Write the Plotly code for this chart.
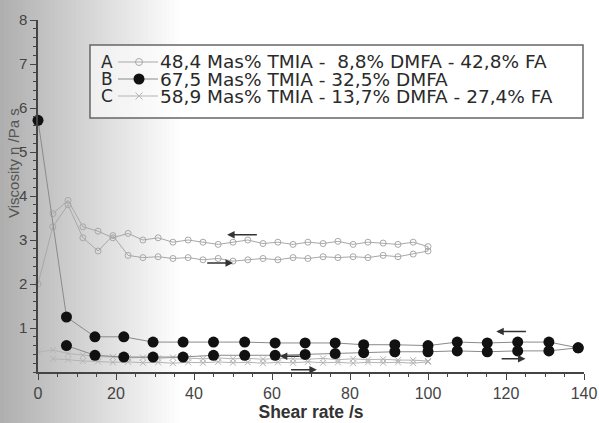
import plotly.graph_objects as go

# ---------------- data ----------------
shear_B = [0, 7.3, 14.6, 22.0, 29.5, 37.2, 45.0, 53.0, 60.8, 68.5, 76.2, 83.5, 91.5, 100.0, 107.5, 115.2, 123.0, 131.0, 138.5]
visc_B_upper = [5.72, 1.25, 0.80, 0.80, 0.68, 0.68, 0.68, 0.68, 0.66, 0.66, 0.66, 0.62, 0.62, 0.60, 0.68, 0.66, 0.68, 0.68, 0.55]
visc_B_lower = [0.60, 0.38, 0.34, 0.34, 0.34, 0.38, 0.38, 0.38, 0.40, 0.42, 0.44, 0.46, 0.46, 0.48, 0.46, 0.48, 0.48, 0.55]  # shear_B[1:]

shear_AC = [0, 3.8, 7.7, 11.5, 15.4, 19.2, 23.1, 26.9, 30.8, 34.6, 38.5, 42.3, 46.2, 50.0,
            53.8, 57.7, 61.5, 65.4, 69.2, 73.1, 76.9, 80.8, 84.6, 88.5, 92.3, 96.2, 100.0]
visc_A_fwd = [2.00, 3.30, 3.80, 3.05, 2.75, 3.10, 2.65, 2.60, 2.62, 2.58, 2.60, 2.55, 2.58, 2.52,
              2.55, 2.58, 2.55, 2.60, 2.58, 2.62, 2.60, 2.62, 2.60, 2.65, 2.62, 2.68, 2.75]
visc_A_back = [3.60, 3.90, 3.30, 3.20, 3.05, 3.15, 3.00, 3.05, 2.95, 3.00, 2.95, 2.90, 2.95,
               3.00, 2.92, 2.95, 2.90, 2.95, 2.92, 2.97, 2.90, 2.95, 2.93, 2.90, 2.95, 2.85]  # shear_AC[1:]
visc_C_fwd = [0.45, 0.50, 0.42, 0.38, 0.35, 0.34, 0.32, 0.33, 0.31, 0.33, 0.32, 0.30, 0.32, 0.30,
              0.31, 0.29, 0.31, 0.30, 0.29, 0.31, 0.28, 0.30, 0.28, 0.29, 0.27, 0.27, 0.25]
visc_C_back = [0.30, 0.28, 0.25, 0.24, 0.22, 0.23, 0.21, 0.22, 0.20, 0.22, 0.21, 0.23, 0.21,
               0.22, 0.20, 0.22, 0.21, 0.23, 0.21, 0.22, 0.20, 0.22, 0.21, 0.22, 0.20, 0.23]  # shear_AC[1:]

# hysteresis arrows: (tail x, head x, y)
arrow_tail = [56.5, 43.0, 125.5, 118.5, 64.5, 67.5]
arrow_head = [48.5, 50.0, 117.5, 125.0, 71.5, 62.0]
arrow_y = [3.12, 2.48, 0.92, 0.30, 0.05, 0.36]

legend_letters = ["A", "B", "C"]
legend_labels = ["48,4 Mas% TMIA -  8,8% DMFA - 42,8% FA",
                 "67,5 Mas% TMIA - 32,5% DMFA",
                 "58,9 Mas% TMIA - 13,7% DMFA - 27,4% FA"]

x_ticks = [0, 20, 40, 60, 80, 100, 120, 140]
y_ticks = [1, 2, 3, 4, 5, 6, 7, 8]

# ---------------- geometry helpers (pixel -> paper) ----------------
W, H = 599, 423
L, R, T, B = 38, 15, 20, 51
PW, PH = W - L - R, H - T - B
def px(p):
    return (p - L) / PW
def py(p):
    return (H - B - p) / PH

FONT = "Liberation Sans, Arial, sans-serif"
LFONT = "DejaVu Sans, Verdana, sans-serif"
grayA = "#a8a8a8"
grayC = "#b4b4b4"

fig = go.Figure()

# Series A
fig.add_trace(go.Scatter(
    x=shear_AC + shear_AC[1:][::-1], y=visc_A_fwd + visc_A_back[::-1],
    mode="lines+markers", line=dict(color=grayA, width=1),
    marker=dict(symbol="circle-open", size=6, color=grayA, line=dict(width=1)),
    showlegend=False, cliponaxis=False))
# Series C
fig.add_trace(go.Scatter(
    x=shear_AC + shear_AC[1:][::-1], y=visc_C_fwd + visc_C_back[::-1],
    mode="lines+markers", line=dict(color=grayC, width=1),
    marker=dict(symbol="x-thin", size=6, color=grayC, line=dict(width=1, color=grayC)),
    showlegend=False, cliponaxis=False))
# Series B
fig.add_trace(go.Scatter(
    x=shear_B + shear_B[1:][::-1], y=visc_B_upper + visc_B_lower[::-1],
    mode="lines+markers", line=dict(color="#8a8a8a", width=1),
    marker=dict(symbol="circle", size=11, color="#111111"),
    showlegend=False, cliponaxis=False))

# manual legend samples on overlay axis
row_y = [62, 79, 96]
sym_styles = [
    dict(symbol="circle-open", size=7, color=grayA, line=dict(width=1)),
    dict(symbol="circle", size=11, color="#111111"),
    dict(symbol="x-thin", size=7, color=grayC, line=dict(width=1, color=grayC)),
]
line_cols = [grayA, "#8a8a8a", grayC]
for i in range(3):
    fig.add_trace(go.Scatter(
        x=[px(118), px(139), px(158)], y=[py(row_y[i])] * 3,
        mode="lines", line=dict(color=line_cols[i], width=1),
        xaxis="x2", yaxis="y2", showlegend=False, hoverinfo="skip"))
    fig.add_trace(go.Scatter(
        x=[px(139)], y=[py(row_y[i])], mode="markers", marker=sym_styles[i],
        xaxis="x2", yaxis="y2", showlegend=False, hoverinfo="skip"))

annotations = []
for i in range(3):
    annotations.append(dict(x=px(99), y=py(row_y[i]), xref="paper", yref="paper",
                            text=legend_letters[i], showarrow=False, xanchor="left",
                            yanchor="middle", font=dict(family=LFONT, size=17, color="#2a2a2a")))
    annotations.append(dict(x=px(158), y=py(row_y[i]), xref="paper", yref="paper",
                            text=legend_labels[i], showarrow=False, xanchor="left",
                            yanchor="middle", font=dict(family=LFONT, size=18.5, color="#2a2a2a")))
for t, h, yv in zip(arrow_tail, arrow_head, arrow_y):
    annotations.append(dict(x=h, y=yv, ax=t, ay=yv, xref="x", yref="y", axref="x", ayref="y",
                            text="", showarrow=True, arrowhead=2, arrowsize=1, arrowwidth=1.5,
                            arrowcolor="#333"))
annotations.append(dict(x=px(13), y=py(163), xref="paper", yref="paper", text="Viscosity η /Pa s",
                        textangle=-90, showarrow=False, xanchor="center", yanchor="middle",
                        font=dict(family=FONT, size=15, color="#555")))

shapes = []
# scanned-page shading on the left (smooth-ish gradient)
for k in range(40):
    edge = 4 + k * 4.5
    shapes.append(dict(type="rect", xref="paper", yref="paper", x0=px(0), x1=px(edge),
                       y0=py(H), y1=py(0), fillcolor="rgba(0,0,0,0.0095)", line=dict(width=0),
                       layer="below"))
# legend frame
shapes.append(dict(type="rect", xref="paper", yref="paper", x0=px(90), x1=px(583),
                   y0=py(118), y1=py(45), line=dict(color="#666", width=1.5),
                   fillcolor="rgba(255,255,255,0.6)", layer="below"))

fig.update_layout(
    width=W, height=H, margin=dict(l=L, r=R, t=T, b=B),
    paper_bgcolor="white", plot_bgcolor="rgba(0,0,0,0)",
    font=dict(family=FONT, size=15, color="#444"),
    showlegend=False,
    annotations=annotations, shapes=shapes,
    xaxis=dict(range=[0, 140], tickmode="array", tickvals=x_ticks, ticks="outside", ticklen=6,
               tickwidth=1.2, tickcolor="#444", showline=True, linecolor="#444", linewidth=1.5,
               showgrid=False, zeroline=False,
               minor=dict(tickmode="linear", tick0=0, dtick=5, ticks="outside", ticklen=3,
                          tickcolor="#444"),
               tickfont=dict(size=16, color="#444"),
               title=dict(text="<b>Shear rate /s</b>", standoff=3,
                          font=dict(size=17.5, color="#333")),
               automargin=False),
    yaxis=dict(range=[0, 8], tickmode="array", tickvals=y_ticks, ticks="outside", ticklen=6,
               tickwidth=1.2, tickcolor="#444", showline=True, linecolor="#444", linewidth=1.5,
               showgrid=False, zeroline=False,
               minor=dict(tickmode="linear", tick0=0, dtick=0.2, ticks="outside", ticklen=3,
                          tickcolor="#444"),
               tickfont=dict(size=15, color="#444"), automargin=False),
    xaxis2=dict(overlaying="x", range=[0, 1], visible=False, anchor="y2"),
    yaxis2=dict(overlaying="y", range=[0, 1], visible=False, anchor="x2"),
)

fig.write_html("out.html", config={"displayModeBar": False},
               post_script="document.body.style.margin='0';")
